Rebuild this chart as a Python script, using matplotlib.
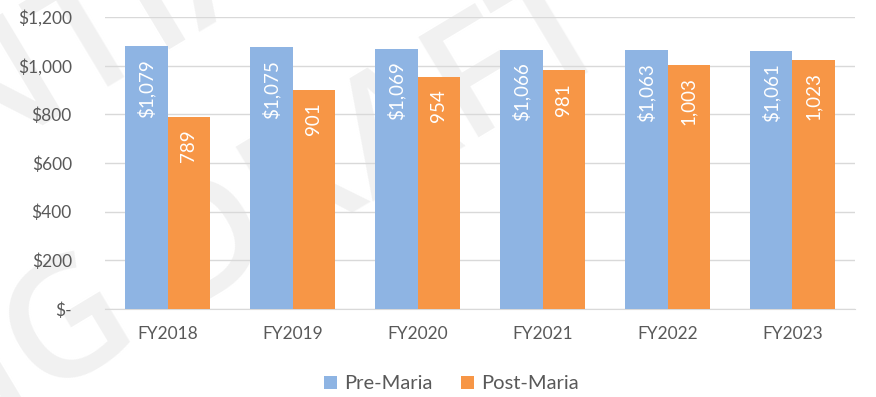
import matplotlib.pyplot as plt
from matplotlib.font_manager import FontProperties
import numpy as np

# Chart data
years = ["FY2018", "FY2019", "FY2020", "FY2021", "FY2022", "FY2023"]
pre_maria = [1079, 1075, 1069, 1066, 1063, 1061]
post_maria = [789, 901, 954, 981, 1003, 1023]
y_ticks = [0, 200, 400, 600, 800, 1000, 1200]
y_tick_labels = ["$-", "$200", "$400", "$600", "$800", "$1,000", "$1,200"]

BLUE = "#8EB4E3"
ORANGE = "#F79646"
TEXT = "#595959"
GRID = "#D9D9D9"
FONT = "Lato"

W, H = 876, 397
fig = plt.figure(figsize=(W / 100, H / 100), dpi=100)
renderer = fig.canvas.get_renderer()

# Faint diagonal watermark behind the chart, placed in pixel space
wm_prop = FontProperties(family="Open Sans", weight="semibold", size=118)
ang = np.deg2rad(31)
along = np.array([np.cos(ang), np.sin(ang)])     # pixel coords, y up
up = np.array([-np.sin(ang), np.cos(ang)])


def text_width(s):
    w, _, _ = renderer.get_text_width_height_descent(s, wm_prop, ismath=False)
    return w


def watermark(text, pivot_index, pivot_xy):
    """Place text so that character pivot_index starts at pivot_xy (pixels, y up)."""
    start = np.array(pivot_xy) - along * text_width(text[:pivot_index])
    fig.text(start[0] / W, start[1] / H, text, fontproperties=wm_prop,
             color="#F1F1F1", rotation=31, rotation_mode="anchor",
             ha="left", va="baseline", zorder=-5)


g_start = np.array([42.0, H - 400.0])
watermark("WORKING DRAFT", 6, g_start)
watermark("CONFIDENTIAL", 7, g_start + along * 55 + up * 240)

ax = fig.add_axes([0.12, 0.222, 0.856, 0.735])
ax.set_facecolor("none")

x = np.arange(len(years))
w = 0.34
b1 = ax.bar(x - w / 2, pre_maria, w, color=BLUE, label="Pre-Maria", zorder=3)
b2 = ax.bar(x + w / 2, post_maria, w, color=ORANGE, label="Post-Maria", zorder=3)

for rect, v in zip(b1, pre_maria):
    ax.annotate(f"${v:,}", (rect.get_x() + rect.get_width() / 2, v),
                xytext=(0, -9), textcoords="offset points", rotation=90,
                ha="center", va="top", color="white", fontsize=13.5,
                family=FONT, zorder=4)
for rect, v in zip(b2, post_maria):
    ax.annotate(f"{v:,}", (rect.get_x() + rect.get_width() / 2, v),
                xytext=(0, -9), textcoords="offset points", rotation=90,
                ha="center", va="top", color="white", fontsize=13.5,
                family=FONT, zorder=4)

ax.set_xlim(-0.5, len(years) - 0.5)
ax.set_ylim(0, 1200)
ax.set_yticks(y_ticks)
ax.set_yticklabels(y_tick_labels)
ax.set_xticks(x)
ax.set_xticklabels(years)
ax.grid(axis="y", color=GRID, linewidth=1, zorder=1)
ax.set_axisbelow(True)
for s in ["top", "right", "left"]:
    ax.spines[s].set_visible(False)
ax.spines["bottom"].set_color(GRID)
ax.spines["bottom"].set_zorder(2)
ax.tick_params(axis="both", length=0, labelcolor=TEXT, labelsize=12.5)
ax.tick_params(axis="y", pad=24)
ax.tick_params(axis="x", pad=12)
for lbl in ax.get_xticklabels() + ax.get_yticklabels():
    lbl.set_family(FONT)

leg = fig.legend(handles=[b1, b2], loc="center", bbox_to_anchor=(0.515, 0.033),
                 ncol=2, frameon=False, handlelength=0.65, handleheight=0.65,
                 handletextpad=0.35, columnspacing=1.4,
                 prop={"family": FONT, "size": 14.5})
for t in leg.get_texts():
    t.set_color(TEXT)

fig.savefig("out.png", dpi=100, facecolor="white")
